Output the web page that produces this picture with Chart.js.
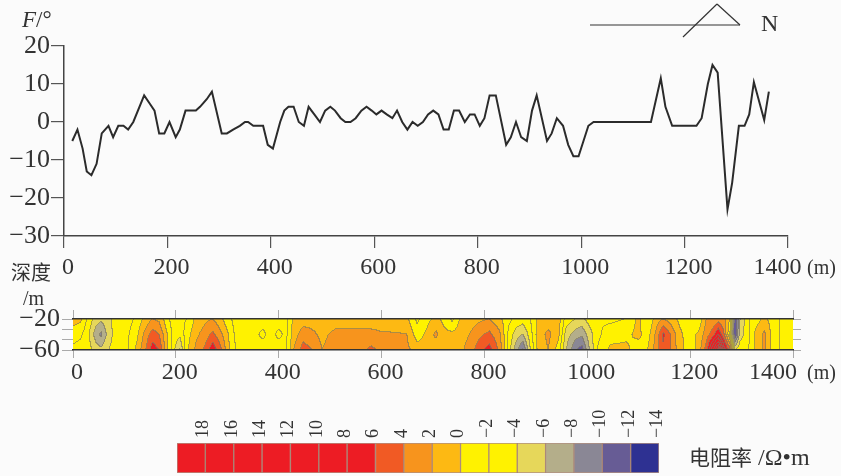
<!DOCTYPE html>
<html><head><meta charset="utf-8">
<script src="https://cdn.jsdelivr.net/npm/chart.js@4.4.0/dist/chart.umd.min.js"></script>
<style>
html,body{margin:0;padding:0;background:#fbfbfb;}
#wrap{position:relative;width:841px;height:476px;overflow:hidden;font-family:'Liberation Serif',serif;color:#333;}
#wrap canvas{position:absolute;left:0;top:0;}
#wrap svg{position:absolute;left:0;top:0;}
.t{position:absolute;white-space:nowrap;line-height:1;}
.cjk{font-family:'Noto Sans CJK SC',sans-serif;}
</style></head><body>
<div id="wrap">
<canvas id="c1" width="841" height="476"></canvas>
<canvas id="c2" width="841" height="476"></canvas>
<canvas id="c3" width="841" height="476"></canvas>
<svg width="841" height="60"><g stroke="#333" stroke-width="1.2" fill="none"><line x1="590" y1="25" x2="740" y2="25"/><line x1="683" y1="37" x2="717" y2="4"/><line x1="717" y1="4" x2="740" y2="25"/></g></svg>
<div class="t" style="left:761px;top:11px;font-size:24px;">N</div>
<div class="t" style="left:22px;top:8px;font-size:23px;"><i>F</i>/°</div>
<div class="t" style="left:807px;top:257px;font-size:20px;">(m)</div>
<div class="t cjk" style="left:11px;top:262px;font-size:20px;">深度</div>
<div class="t" style="left:23px;top:288px;font-size:20px;">/m</div>
<div class="t" style="left:807px;top:362px;font-size:20px;">(m)</div>
<div class="t" style="left:689px;top:445px;font-size:24px;"><span class="cjk" style="font-size:21px;">电阻率</span> /Ω•m</div>
</div>
<script>
// ---- top profile: F (degrees) vs distance (m)
const posX = [16,26,36,44,53,63,73,86,95,105,115,124,134,155,165,175,184,194,204,216,224,235,245,255,263,276,286,305,315,327,340,350,356,366,385,394,404,418,426,434,444,454,464,473,484,495,505,515,524,535,544,554,564,575,585,595,604,614,624,635,644,654,664,674,684,694,704,714,724,734,744,754,764,775,785,794,804,813,823,835,855,864,874,884,895,905,914,934,943,953,965,975,985,995,1014,1024,1135,1154,1163,1176,1223,1233,1245,1254,1264,1283,1292,1305,1316,1325,1334,1354,1363];
const fAngle = [-5,-2,-7,-13,-14,-11,-3,-1,-4,-1,-1,-2,0,7,5,3,-3,-3,0,-4,-2,3,3,3,4,6,8,-3,-3,-2,-1,0,0,-1,-1,-6,-7,0,3,4,4,0,-1,4,2,0,3,4,3,1,0,0,1,3,4,3,2,3,2,1,3,0,-2,0,-1,0,2,3,2,-2,-2,3,3,0,2,2,-1,1,7,7,-6,-4,0,-4,-5,3,7,-5,-3,1,-1,-6,-9,-9,-1,0,0,11.5,4,-1,-1,1,10,15,13,-23,-16,-1,-1,2,10.5,0.5,8];
const xTicks = [0,200,400,600,800,1000,1200,1400];
const xTickLabelsTop = ['0','200','400','600','800','1000','1200','1400\u2003\u2009'];
const xTickLabelsStrip = ['0','200','400','600','800','1000','1200','1400\u2003\u2003'];
const fTicks = [-30,-20,-10,0,10,20];

// ---- resistivity section grid (depth rows -20, -40, -60 m)
const gridX = [0,15,30,45,55,70,85,105,125,140,155,168,182,195,208,222,240,258,272,288,303,320,345,370,385,400,415,430,448,465,485,510,540,560,580,600,625,650,670,690,706,722,738,755,772,790,810,830,848,862,875,890,905,925,945,960,978,990,1005,1020,1045,1075,1100,1118,1135,1148,1162,1180,1200,1218,1232,1245,1255,1267,1278,1288,1298,1312,1328,1345,1362,1380,1400];
const gridDepth = [-20,-40,-60];
const heatTop = [1,0.5,-2.5,-5,-5.5,-4.5,-3,-3,-1.5,0.5,2,1.5,-1,-3,-2.5,-2,0.5,1.5,2,0.5,-1.5,-3,-3,-3,-2.5,-3,-2.5,0.5,1,1,0.5,1,1,1,1,1,0.5,0.5,-2.5,-0.5,0.5,-0.5,-2.5,0.5,1,1.5,2,0.5,-1.5,-2.5,-3,-2,0.5,1,1,-3,-4,-4.5,-3,-2,-2.5,-2,0.5,-2,1,2,1,-0.5,-2,-1.5,2,2.5,3,2.5,0,-12,-6,-2.5,-1,0.5,-1,-2.5,-2.5];
const heatMid = [-1,-1.5,-3.5,-7,-8.5,-5,-3,-2.5,-0.5,2.5,5,4,0.5,-2.5,-3.5,-1,1.5,3,4.5,2.5,0,-3,-3,-1.5,-3,-1.5,-2.5,1,3,2.5,1.5,2.5,2.5,2.5,2.5,2.2,2.2,2,-1,0.5,2.5,0.5,0.5,1,2,3.5,4.5,2.5,-2.5,-5,-6,-3,1,2.5,0.5,-5,-7,-7.5,-5,-2.5,-1,-0.5,0.5,-1,2.5,6.5,4,0.5,-1,0.5,3,5,8,4,-2,-12,-5,-3,0.5,2.5,-1,-2.5,-2.5];
const heatBot = [-2.5,-3,-3,-5,-5.5,-4,-3,-2.5,0.5,3.5,7,6,1,-3,-6.5,-0.5,2.5,4.5,7.5,4.5,0.5,-2.5,-3,-3,-3,-3,-2.5,2,5,4,2,3,3,3.5,4.5,3.5,3,2.5,1,1,0.5,1,1.5,1.5,3,5,7,3.5,-3,-7,-10.5,-4,0.5,2,-1,-6,-10,-11,-6,-2,0.5,0.5,-1,0,3,5.5,4,1,-1.5,1,5,12,17,9,5,-4,-2.5,-2.5,0.5,2.5,-1,-2.5,-2.5];
const depthTicks = [-20,-33.33,-46.67,-60];
const depthLabels = ['−20','','','−60'];

// ---- colour scale legend
const legendValues = [18,16,14,12,10,8,6,4,2,0,-2,-4,-6,-8,-10,-12,-14];
const legendLabels = ['18','16','14','12','10','8','6','4','2','0','−2','−4','−6','−8','−10','−12','−14'];
const legendColors = ['#ED1C24','#ED1C24','#ED1C24','#ED1C24','#ED1C24','#ED1C24','#ED1C24','#F15A24','#F7941D','#FDB913','#FFF200','#FFF200','#E6D75A','#B4AE8A','#8A8795','#675C95','#2E3192'];
const legendBox = [1,1,1,1,1,1,1,1,1,1,1,1,1,1,1,1,1];

const SERIF = {family:"'Liberation Serif', serif", size:24};
const SERIF_Y = {family:"'Liberation Serif', serif", size:26};
const INK = '#333';
const fmt = v => (v < 0 ? '−' + Math.abs(v) : String(v));

// Top chart
new Chart(document.getElementById('c1'), {
  type:'line',
  data:{datasets:[{data:posX.map((x,i)=>({x:x,y:fAngle[i]})), borderColor:'#2b2b2b', borderWidth:2, pointRadius:0, tension:0, fill:false}]},
  options:{
    responsive:false, animation:false, events:[],
    layout:{padding:{left:0, top:46, right:53, bottom:200}},
    plugins:{legend:{display:false}, tooltip:{enabled:false}},
    scales:{
      x:{type:'linear', min:0, max:1400,
        afterFit(s){s.height=40;},
        afterBuildTicks(s){s.ticks = xTicks.map(v=>({value:v}));},
        ticks:{callback:(v,i)=>xTickLabelsTop[i], font:SERIF, color:INK, padding:5, labelOffset:4, maxRotation:0, autoSkip:false},
        grid:{drawOnChartArea:false, tickLength:12, color:'#555', lineWidth:1.2},
        border:{color:'#444', width:1.5}},
      y:{type:'linear', min:-30, max:20,
        afterFit(s){s.width=64;},
        afterBuildTicks(s){s.ticks = fTicks.map(v=>({value:v}));},
        ticks:{callback:v=>fmt(v), font:SERIF_Y, color:INK, padding:1},
        grid:{drawOnChartArea:false, tickLength:13, color:'#555', lineWidth:1.2},
        border:{color:'#444', width:1.5}}
    }
  }
});

// Heat section plugin
function hexRgb(h){return [parseInt(h.slice(1,3),16),parseInt(h.slice(3,5),16),parseInt(h.slice(5,7),16)];}
const rgbList = legendColors.map(hexRgb);
function bandOf(v){for(let i=0;i<legendValues.length;i++){if(v>=legendValues[i])return i;}return legendValues.length-1;}
const heatRows = [heatTop, heatMid, heatBot];
function interp(xv, dv){
  let k=0; while(k<gridX.length-2 && xv>gridX[k+1]) k++;
  let tx=(xv-gridX[k])/(gridX[k+1]-gridX[k]); tx=Math.max(0,Math.min(1,tx));
  let r=0; while(r<gridDepth.length-2 && dv<gridDepth[r+1]) r++;
  let ty=(gridDepth[r]-dv)/(gridDepth[r]-gridDepth[r+1]); ty=Math.max(0,Math.min(1,ty));
  const a=heatRows[r], b=heatRows[r+1];
  const v0=a[k]*(1-tx)+a[k+1]*tx, v1=b[k]*(1-tx)+b[k+1]*tx;
  return v0*(1-ty)+v1*ty;
}
const heatPlugin = {
  id:'heat',
  beforeDatasetsDraw(chart){
    const {ctx, chartArea:a, scales} = chart;
    const xs=scales.x, ys=scales.y;
    const w=Math.round(a.right-a.left), h=Math.round(a.bottom-a.top);
    const off=document.createElement('canvas'); off.width=w; off.height=h;
    const octx=off.getContext('2d');
    const img=octx.createImageData(w,h);
    const band=new Int16Array(w*h);
    for(let j=0;j<h;j++){
      const dv=ys.getValueForPixel(a.top+j+0.5);
      for(let i=0;i<w;i++){
        const xv=xs.getValueForPixel(a.left+i+0.5);
        band[j*w+i]=bandOf(interp(xv,dv));
      }
    }
    const line=[125,118,95];
    for(let j=0;j<h;j++){
      for(let i=0;i<w;i++){
        const b=band[j*w+i];
        let c=rgbList[b];
        const edge=(i<w-1 && band[j*w+i+1]!==b) || (j<h-1 && band[(j+1)*w+i]!==b);
        const p=(j*w+i)*4;
        if(edge){
          img.data[p]=c[0]*0.35+line[0]*0.65; img.data[p+1]=c[1]*0.35+line[1]*0.65; img.data[p+2]=c[2]*0.35+line[2]*0.65;
        } else { img.data[p]=c[0]; img.data[p+1]=c[1]; img.data[p+2]=c[2]; }
        img.data[p+3]=255;
      }
    }
    octx.putImageData(img,0,0);
    ctx.drawImage(off,a.left,a.top);
  }
};

new Chart(document.getElementById('c2'), {
  type:'scatter',
  data:{datasets:[{data:[]}]},
  plugins:[heatPlugin],
  options:{
    responsive:false, animation:false, events:[],
    layout:{padding:0},
    plugins:{legend:{display:false}, tooltip:{enabled:false}},
    scales:{
      x:{type:'linear', position:'bottom', min:0, max:1400,
        afterFit(s){s.height=126;},
        afterBuildTicks(s){s.ticks = xTicks.map(v=>({value:v}));},
        ticks:{callback:(v,i)=>xTickLabelsStrip[i], font:SERIF, color:INK, padding:0, labelOffset:4, maxRotation:0, autoSkip:false},
        grid:{drawOnChartArea:false, tickLength:8, color:'#aaa'},
        border:{color:'#333', width:1.5, z:1}},
      xTop:{type:'linear', position:'top', min:0, max:1400,
        afterFit(s){s.height=319;},
        afterBuildTicks(s){s.ticks = xTicks.map(v=>({value:v}));},
        ticks:{callback:()=>'', autoSkip:false},
        grid:{drawOnChartArea:false, tickLength:9, color:'#aaa'},
        border:{color:'#333', width:1.5, z:1}},
      y:{type:'linear', position:'left', min:-60, max:-20,
        afterFit(s){s.width=73;},
        afterBuildTicks(s){s.ticks = depthTicks.map(v=>({value:v}));},
        ticks:{callback:(v,i)=>depthLabels[i], font:SERIF_Y, color:INK, padding:2, autoSkip:false},
        grid:{drawOnChartArea:false, tickLength:11, color:'#aaa'},
        border:{color:'#bbb', width:1}},
      yR:{type:'linear', position:'right', min:-60, max:-20,
        afterFit(s){s.width=44;},
        afterBuildTicks(s){s.ticks = depthTicks.map(v=>({value:v}));},
        ticks:{callback:()=>'', autoSkip:false},
        grid:{drawOnChartArea:false, tickLength:8, color:'#aaa'},
        border:{display:false}}
    }
  }
});

// Legend chart
new Chart(document.getElementById('c3'), {
  type:'bar',
  data:{labels:legendLabels, datasets:[{data:legendBox, backgroundColor:legendColors, borderColor:'rgba(150,105,85,0.75)', borderWidth:1, borderSkipped:false, barPercentage:1, categoryPercentage:1}]},
  options:{
    responsive:false, animation:false, events:[],
    layout:{padding:{left:177, right:182, top:383, bottom:3}},
    plugins:{legend:{display:false}, tooltip:{enabled:false}},
    scales:{
      x:{position:'top', afterFit(s){s.height=60;},
        ticks:{minRotation:90, maxRotation:90, autoSkip:false, padding:-3, labelOffset:34, font:{family:"'Liberation Serif', serif", size:18}, color:INK},
        grid:{display:false}, border:{display:false}},
      y:{display:false, min:0, max:1}
    }
  }
});
</script>
</body></html>
